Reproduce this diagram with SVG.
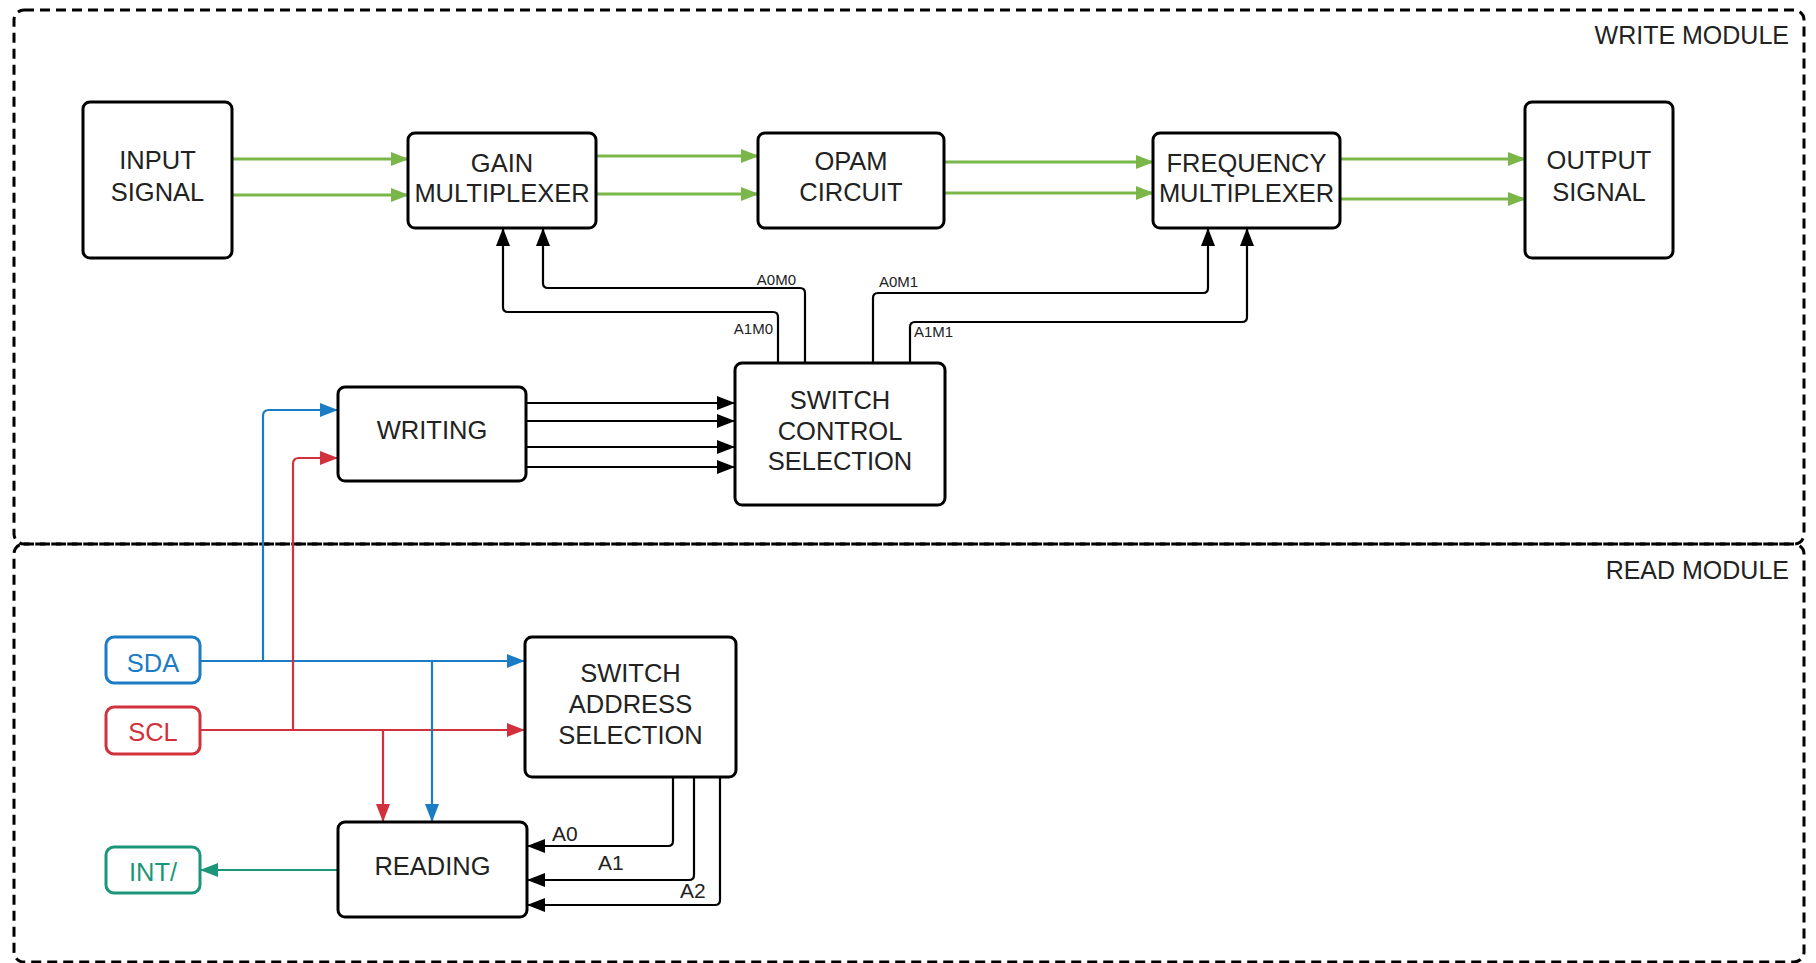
<svg xmlns="http://www.w3.org/2000/svg" width="1816" height="963" viewBox="0 0 1816 963">
<style>
text{font-family:"Liberation Sans",Arial,sans-serif;fill:#222;}
.node rect{fill:#fff;stroke:#000;stroke-width:3;}
.nt{font-size:25.5px;text-anchor:middle;}
.frame{fill:none;stroke:#000;stroke-width:3;stroke-dasharray:10 6;}
.mod{font-size:25px;text-anchor:end;}
.c{fill:none;stroke-width:2.2;stroke-linejoin:round;}
.k{stroke:#000;marker-end:url(#mk);}
.g{stroke:#7AB648;stroke-width:3;marker-end:url(#mg);}
.b{stroke:#1A7CC4;marker-end:url(#mb);}
.r{stroke:#D2303C;marker-end:url(#mr);}
.t{stroke:#1A977A;marker-end:url(#mt);}
.sl{font-size:15px;}
.al{font-size:21px;}
</style>
<defs>
<marker id="mk" markerUnits="userSpaceOnUse" markerWidth="18" markerHeight="14" refX="17" refY="7" orient="auto"><path d="M0,0 L18,7 L0,14 z" fill="#000"/></marker>
<marker id="mg" markerUnits="userSpaceOnUse" markerWidth="18" markerHeight="14" refX="17" refY="7" orient="auto"><path d="M0,0 L18,7 L0,14 z" fill="#7AB648"/></marker>
<marker id="mb" markerUnits="userSpaceOnUse" markerWidth="18" markerHeight="14" refX="17" refY="7" orient="auto"><path d="M0,0 L18,7 L0,14 z" fill="#1A7CC4"/></marker>
<marker id="mr" markerUnits="userSpaceOnUse" markerWidth="18" markerHeight="14" refX="17" refY="7" orient="auto"><path d="M0,0 L18,7 L0,14 z" fill="#D2303C"/></marker>
<marker id="mt" markerUnits="userSpaceOnUse" markerWidth="18" markerHeight="14" refX="17" refY="7" orient="auto"><path d="M0,0 L18,7 L0,14 z" fill="#1A977A"/></marker>
</defs>
<rect width="1816" height="963" fill="#fff"/>
<g id="write-module">
<rect class="frame" x="14" y="10" width="1790" height="534" rx="10"/>
<text class="mod" x="1789" y="44">WRITE MODULE</text>
</g>
<g id="read-module">
<rect class="frame" x="14" y="544" width="1790" height="418" rx="10"/>
<text class="mod" x="1789" y="579">READ MODULE</text>
</g>
<g id="connectors">
<path class="c g" d="M232,159 H408"/>
<path class="c g" d="M232,195 H408"/>
<path class="c g" d="M596,156 H758"/>
<path class="c g" d="M596,194 H758"/>
<path class="c g" d="M944,162 H1153"/>
<path class="c g" d="M944,193 H1153"/>
<path class="c g" d="M1340,159 H1525"/>
<path class="c g" d="M1340,199 H1525"/>
<path class="c k" d="M778,363 V317 Q778,312 773,312 H508 Q503,312 503,307 V229"/>
<path class="c k" d="M805,363 V293 Q805,288 800,288 H548 Q543,288 543,283 V229"/>
<path class="c k" d="M873,363 V298 Q873,293 878,293 H1203 Q1208,293 1208,288 V229"/>
<path class="c k" d="M910,363 V327 Q910,322 915,322 H1242 Q1247,322 1247,317 V229"/>
<path class="c k" d="M526,403 H734"/>
<path class="c k" d="M526,421 H734"/>
<path class="c k" d="M526,447 H734"/>
<path class="c k" d="M526,467 H734"/>
<path class="c b" d="M200,661 H524"/>
<path class="c b" d="M263,661 V416 Q263,410 269,410 H337"/>
<path class="c r" d="M200,730 H524"/>
<path class="c r" d="M293,730 V464 Q293,458 299,458 H337"/>
<path class="c r" d="M383,730 V821"/>
<path class="c b" d="M432,661 V821"/>
<path class="c t" d="M338,870 H201"/>
<path class="c k" d="M673,777 V841 Q673,846 668,846 H528"/>
<path class="c k" d="M694,777 V875 Q694,880 689,880 H528"/>
<path class="c k" d="M720,777 V900 Q720,905 715,905 H528"/>
<text class="sl" x="773" y="334" text-anchor="end">A1M0</text>
<text class="sl" x="796" y="285" text-anchor="end">A0M0</text>
<text class="sl" x="879" y="287">A0M1</text>
<text class="sl" x="914" y="337">A1M1</text>
<text class="al" x="552" y="841">A0</text>
<text class="al" x="598" y="870">A1</text>
<text class="al" x="680" y="898">A2</text>
</g>
<g id="input-signal" class="node"><rect x="83" y="102" width="149" height="156" rx="7"/><text class="nt" x="157.5" y="169">INPUT</text><text class="nt" x="157.5" y="201">SIGNAL</text></g>
<g id="gain-multiplexer" class="node"><rect x="408" y="133" width="188" height="95" rx="7"/><text class="nt" x="502" y="172">GAIN</text><text class="nt" x="502" y="202">MULTIPLEXER</text></g>
<g id="opam-circuit" class="node"><rect x="758" y="133" width="186" height="95" rx="7"/><text class="nt" x="851" y="170">OPAM</text><text class="nt" x="851" y="201">CIRCUIT</text></g>
<g id="frequency-multiplexer" class="node"><rect x="1153" y="133" width="187" height="95" rx="7"/><text class="nt" x="1246.5" y="172">FREQUENCY</text><text class="nt" x="1246.5" y="202">MULTIPLEXER</text></g>
<g id="output-signal" class="node"><rect x="1525" y="102" width="148" height="156" rx="7"/><text class="nt" x="1599" y="169">OUTPUT</text><text class="nt" x="1599" y="201">SIGNAL</text></g>
<g id="writing" class="node"><rect x="338" y="387" width="188" height="94" rx="7"/><text class="nt" x="432" y="439">WRITING</text></g>
<g id="switch-control-selection" class="node"><rect x="735" y="363" width="210" height="142" rx="7"/><text class="nt" x="840" y="409">SWITCH</text><text class="nt" x="840" y="440">CONTROL</text><text class="nt" x="840" y="470">SELECTION</text></g>
<g id="sda" class="node"><rect x="106" y="637" width="94" height="46" rx="8" style="stroke:#1A7CC4"/><text class="nt" x="153" y="672" style="fill:#1A7CC4">SDA</text></g>
<g id="scl" class="node"><rect x="106" y="707" width="94" height="47" rx="8" style="stroke:#D2303C"/><text class="nt" x="153" y="741" style="fill:#D2303C">SCL</text></g>
<g id="int" class="node"><rect x="106" y="847" width="94" height="46" rx="8" style="stroke:#1A977A"/><text class="nt" x="153" y="881" style="fill:#1A977A">INT/</text></g>
<g id="switch-address-selection" class="node"><rect x="525" y="637" width="211" height="140" rx="7"/><text class="nt" x="630.5" y="682">SWITCH</text><text class="nt" x="630.5" y="713">ADDRESS</text><text class="nt" x="630.5" y="744">SELECTION</text></g>
<g id="reading" class="node"><rect x="338" y="822" width="189" height="95" rx="7"/><text class="nt" x="432.5" y="875">READING</text></g>
</svg>
